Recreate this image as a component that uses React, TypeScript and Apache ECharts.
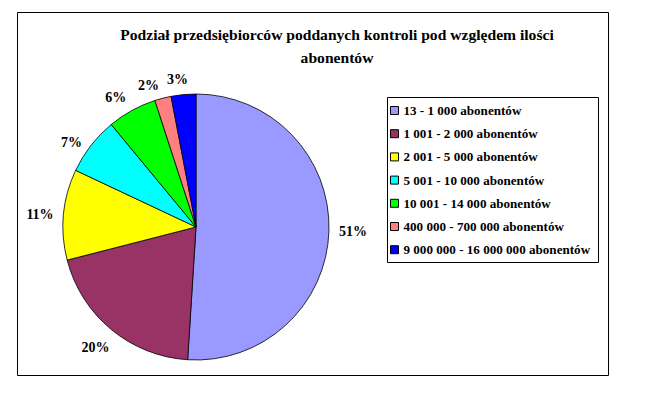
import React, { useEffect, useRef } from "react";
import * as echarts from "echarts";

const titleLines = ["Podział przedsiębiorców poddanych kontroli pod względem ilości", "abonentów"];
const categories = [
  "13 - 1 000 abonentów",
  "1 001 - 2 000 abonentów",
  "2 001 - 5 000 abonentów",
  "5 001 - 10 000 abonentów",
  "10 001 - 14 000 abonentów",
  "400 000 - 700 000 abonentów",
  "9 000 000 - 16 000 000 abonentów",
];
const shares = [51, 20, 11, 7, 6, 2, 3];
const colors = ["#9999FF", "#993366", "#FFFF00", "#00FFFF", "#00FF00", "#FF8080", "#0000FF"];
// per-slice label placement tweaks (line length, distance to line)
const labelLineLengths = [5, 23, 5, 5, 15, 13.5, 15.5];
const labelDistances = [5, -13, 5, 5, -1.5, 0.5, -6];

const FONT = "Liberation Serif";

export default function App() {
  const ref = useRef<HTMLDivElement>(null);
  useEffect(() => {
    const chart = echarts.init(ref.current!, null, { renderer: "svg" });
    chart.setOption({
      animation: false,
      backgroundColor: "#fff",
      color: colors,
      textStyle: { fontFamily: FONT },
      graphic: [
        { type: "rect", shape: { x: 17.5, y: 12.5, width: 591, height: 363 }, style: { fill: "none", stroke: "#000", lineWidth: 1 }, silent: true },
        { type: "rect", shape: { x: 387.5, y: 97.5, width: 211, height: 165 }, style: { fill: "none", stroke: "#000", lineWidth: 1 }, silent: true },
        { type: "text", x: 337, y: 34, style: { text: titleLines[0], font: "bold 15.6px Liberation Serif", fill: "#000", align: "center", verticalAlign: "middle" } },
        { type: "text", x: 337, y: 57, style: { text: titleLines[1], font: "bold 15.6px Liberation Serif", fill: "#000", align: "center", verticalAlign: "middle" } },
      ],
      legend: {
        orient: "vertical",
        left: 390,
        top: 104,
        padding: 0,
        itemWidth: 8,
        itemHeight: 8,
        itemGap: 10.2,
        icon: "rect",
        itemStyle: { borderColor: "#000", borderWidth: 1 },
        textStyle: { fontFamily: FONT, fontWeight: "bold", fontSize: 13.1, color: "#000" },
        data: categories,
      },
      series: [
        {
          type: "pie",
          center: [196, 227],
          radius: 133,
          startAngle: 90,
          clockwise: true,
          avoidLabelOverlap: false,
          itemStyle: { borderColor: "#000", borderWidth: 0.8 },
          label: {
            show: true,
            position: "outside",
            formatter: "{c}%",
            fontFamily: FONT,
            fontWeight: "bold",
            fontSize: 14,
            color: "#000",
            distanceToLabelLine: 5,
          },
          labelLine: { show: false, length: 5, length2: 0 },
          emphasis: { disabled: true },
          data: categories.map((name, i) => ({
            name,
            value: shares[i],
            label: { distanceToLabelLine: labelDistances[i] },
            labelLine: { show: false, length: labelLineLengths[i], length2: 0 },
          })),
        },
      ],
    });
    return () => chart.dispose();
  }, []);
  return <div ref={ref} style={{ width: 655, height: 397, margin: -8 }} />;
}
